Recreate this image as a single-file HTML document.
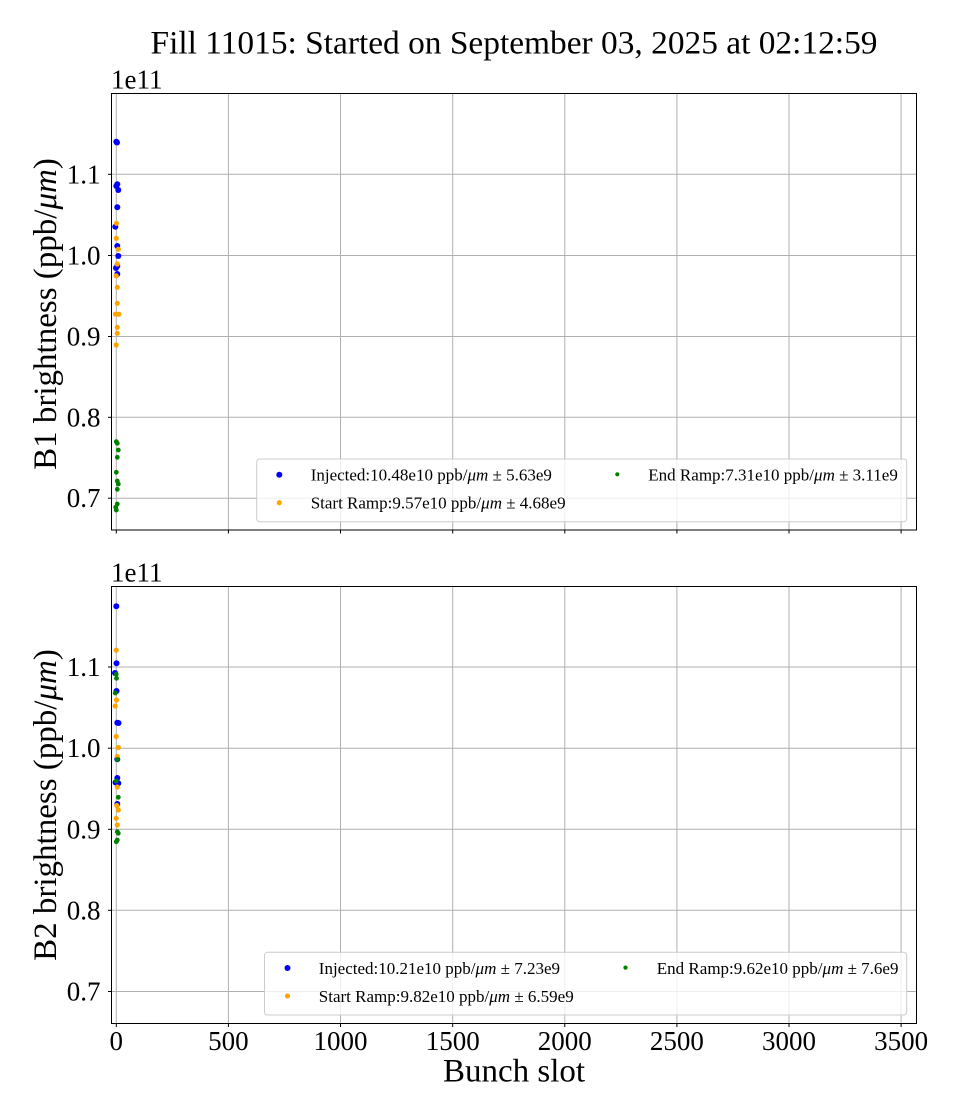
<!DOCTYPE html>
<html>
<head>
<meta charset="utf-8">
<style>
html,body{margin:0;padding:0;background:#fff;}
svg{display:block;}
text{font-family:"Liberation Serif","DejaVu Serif",serif;fill:#000;}
</style>
</head>
<body>
<svg width="960" height="1120" viewBox="0 0 960 1120" xmlns="http://www.w3.org/2000/svg">
<rect width="960" height="1120" fill="#fff"/>

<!-- Title -->
<text x="514" y="53.3" font-size="33" text-anchor="middle" textLength="727" lengthAdjust="spacingAndGlyphs">Fill 11015: Started on September 03, 2025 at 02:12:59</text>

<!-- ================= TOP AXES ================= -->
<g stroke="#b0b0b0" stroke-width="1">
  <line x1="116.3" y1="93.5" x2="116.3" y2="530"/>
  <line x1="228.4" y1="93.5" x2="228.4" y2="530"/>
  <line x1="340.5" y1="93.5" x2="340.5" y2="530"/>
  <line x1="452.7" y1="93.5" x2="452.7" y2="530"/>
  <line x1="564.8" y1="93.5" x2="564.8" y2="530"/>
  <line x1="676.9" y1="93.5" x2="676.9" y2="530"/>
  <line x1="789.0" y1="93.5" x2="789.0" y2="530"/>
  <line x1="901.1" y1="93.5" x2="901.1" y2="530"/>
  <line x1="111.5" y1="174.3" x2="916.5" y2="174.3"/>
  <line x1="111.5" y1="255.5" x2="916.5" y2="255.5"/>
  <line x1="111.5" y1="336.5" x2="916.5" y2="336.5"/>
  <line x1="111.5" y1="417.3" x2="916.5" y2="417.3"/>
  <line x1="111.5" y1="498.2" x2="916.5" y2="498.2"/>
</g>
<!-- ticks -->
<g stroke="#000" stroke-width="1">
  <line x1="116.3" y1="530" x2="116.3" y2="533.5"/>
  <line x1="228.4" y1="530" x2="228.4" y2="533.5"/>
  <line x1="340.5" y1="530" x2="340.5" y2="533.5"/>
  <line x1="452.7" y1="530" x2="452.7" y2="533.5"/>
  <line x1="564.8" y1="530" x2="564.8" y2="533.5"/>
  <line x1="676.9" y1="530" x2="676.9" y2="533.5"/>
  <line x1="789.0" y1="530" x2="789.0" y2="533.5"/>
  <line x1="901.1" y1="530" x2="901.1" y2="533.5"/>
  <line x1="108" y1="174.3" x2="111.5" y2="174.3"/>
  <line x1="108" y1="255.5" x2="111.5" y2="255.5"/>
  <line x1="108" y1="336.5" x2="111.5" y2="336.5"/>
  <line x1="108" y1="417.3" x2="111.5" y2="417.3"/>
  <line x1="108" y1="498.2" x2="111.5" y2="498.2"/>
</g>
<g font-size="27" text-anchor="end">
  <text x="100.5" y="183.3">1.1</text>
  <text x="100.5" y="264.5">1.0</text>
  <text x="100.5" y="345.5">0.9</text>
  <text x="100.5" y="426.3">0.8</text>
  <text x="100.5" y="507.2">0.7</text>
</g>
<text x="111" y="88.3" font-size="27">1e11</text>
<text transform="translate(56,314) rotate(-90)" font-size="33" text-anchor="middle">B1 brightness (ppb/<tspan font-style="italic">μm</tspan>)</text>

<!-- data top -->
<g fill="#0000ff">
  <circle cx="116.3" cy="141.7" r="3"/><circle cx="117" cy="142.5" r="3"/>
  <circle cx="117.3" cy="184.3" r="3"/><circle cx="116.3" cy="186" r="3"/><circle cx="118.3" cy="190" r="3"/>
  <circle cx="117.3" cy="207.3" r="3"/>
  <circle cx="115.3" cy="226.7" r="3"/>
  <circle cx="117.3" cy="246" r="3"/>
  <circle cx="118.3" cy="256" r="3"/>
  <circle cx="117.3" cy="266" r="3"/><circle cx="116" cy="268" r="3"/>
  <circle cx="117.3" cy="274" r="3"/>
</g>
<g fill="#ffa500">
  <circle cx="116.5" cy="223.3" r="2.6"/>
  <circle cx="116.3" cy="238.3" r="2.6"/>
  <circle cx="118.3" cy="249.2" r="2.6"/>
  <circle cx="117.3" cy="264" r="2.6"/>
  <circle cx="116.2" cy="275.8" r="2.6"/>
  <circle cx="117.3" cy="287.3" r="2.6"/>
  <circle cx="117.3" cy="303.3" r="2.6"/>
  <circle cx="115.5" cy="314.2" r="2.6"/><circle cx="118.7" cy="314.2" r="2.6"/>
  <circle cx="117.3" cy="327.3" r="2.6"/>
  <circle cx="117.3" cy="333.3" r="2.6"/>
  <circle cx="116.2" cy="345" r="2.6"/>
</g>
<g fill="#008000">
  <circle cx="116.3" cy="441.7" r="2.4"/><circle cx="117.3" cy="443.3" r="2.4"/>
  <circle cx="118.3" cy="450" r="2.4"/>
  <circle cx="117.3" cy="457.3" r="2.4"/>
  <circle cx="116.3" cy="472.3" r="2.4"/>
  <circle cx="117.3" cy="481" r="2.4"/><circle cx="118.3" cy="484" r="2.4"/>
  <circle cx="117.3" cy="489.3" r="2.4"/>
  <circle cx="117.3" cy="504" r="2.4"/>
  <circle cx="115.7" cy="507.3" r="2.4"/><circle cx="116.3" cy="510" r="2.4"/>
</g>

<!-- legend top -->
<rect x="256.7" y="459" width="650" height="62.7" rx="3" ry="3" fill="#fff" fill-opacity="0.8" stroke="#cccccc" stroke-width="1"/>
<circle cx="279.3" cy="474.7" r="3" fill="#0000ff"/>
<circle cx="279.3" cy="502.7" r="2.6" fill="#ffa500"/>
<circle cx="617.3" cy="474.3" r="2.1" fill="#008000"/>
<g font-size="17">
  <text x="310.7" y="480.5">Injected:10.48e10 ppb/<tspan font-style="italic">μm</tspan> ± 5.63e9</text>
  <text x="310.7" y="508.5">Start Ramp:9.57e10 ppb/<tspan font-style="italic">μm</tspan> ± 4.68e9</text>
  <text x="648.3" y="480.5">End Ramp:7.31e10 ppb/<tspan font-style="italic">μm</tspan> ± 3.11e9</text>
</g>

<rect x="111.5" y="93.5" width="805" height="436.5" fill="none" stroke="#000" stroke-width="1"/>

<!-- ================= BOTTOM AXES ================= -->
<g stroke="#b0b0b0" stroke-width="1">
  <line x1="116.3" y1="586.5" x2="116.3" y2="1023.5"/>
  <line x1="228.4" y1="586.5" x2="228.4" y2="1023.5"/>
  <line x1="340.5" y1="586.5" x2="340.5" y2="1023.5"/>
  <line x1="452.7" y1="586.5" x2="452.7" y2="1023.5"/>
  <line x1="564.8" y1="586.5" x2="564.8" y2="1023.5"/>
  <line x1="676.9" y1="586.5" x2="676.9" y2="1023.5"/>
  <line x1="789.0" y1="586.5" x2="789.0" y2="1023.5"/>
  <line x1="901.1" y1="586.5" x2="901.1" y2="1023.5"/>
  <line x1="111.5" y1="667" x2="916.5" y2="667"/>
  <line x1="111.5" y1="748.2" x2="916.5" y2="748.2"/>
  <line x1="111.5" y1="829.3" x2="916.5" y2="829.3"/>
  <line x1="111.5" y1="910.3" x2="916.5" y2="910.3"/>
  <line x1="111.5" y1="991.5" x2="916.5" y2="991.5"/>
</g>
<g stroke="#000" stroke-width="1">
  <line x1="116.3" y1="1023.5" x2="116.3" y2="1027"/>
  <line x1="228.4" y1="1023.5" x2="228.4" y2="1027"/>
  <line x1="340.5" y1="1023.5" x2="340.5" y2="1027"/>
  <line x1="452.7" y1="1023.5" x2="452.7" y2="1027"/>
  <line x1="564.8" y1="1023.5" x2="564.8" y2="1027"/>
  <line x1="676.9" y1="1023.5" x2="676.9" y2="1027"/>
  <line x1="789.0" y1="1023.5" x2="789.0" y2="1027"/>
  <line x1="901.1" y1="1023.5" x2="901.1" y2="1027"/>
  <line x1="108" y1="667" x2="111.5" y2="667"/>
  <line x1="108" y1="748.2" x2="111.5" y2="748.2"/>
  <line x1="108" y1="829.3" x2="111.5" y2="829.3"/>
  <line x1="108" y1="910.3" x2="111.5" y2="910.3"/>
  <line x1="108" y1="991.5" x2="111.5" y2="991.5"/>
</g>
<g font-size="27" text-anchor="end">
  <text x="100.5" y="676">1.1</text>
  <text x="100.5" y="757.2">1.0</text>
  <text x="100.5" y="838.3">0.9</text>
  <text x="100.5" y="919.3">0.8</text>
  <text x="100.5" y="1000.5">0.7</text>
</g>
<g font-size="27" text-anchor="middle">
  <text x="116.3" y="1050">0</text>
  <text x="228.4" y="1050">500</text>
  <text x="340.5" y="1050">1000</text>
  <text x="452.7" y="1050">1500</text>
  <text x="564.8" y="1050">2000</text>
  <text x="676.9" y="1050">2500</text>
  <text x="789.0" y="1050">3000</text>
  <text x="901.1" y="1050">3500</text>
</g>
<text x="111" y="581.3" font-size="27">1e11</text>
<text transform="translate(56,805) rotate(-90)" font-size="33" text-anchor="middle">B2 brightness (ppb/<tspan font-style="italic">μm</tspan>)</text>
<text x="514" y="1081.7" font-size="33" text-anchor="middle">Bunch slot</text>

<!-- data bottom -->
<g fill="#0000ff">
  <circle cx="116.3" cy="606.3" r="3"/>
  <circle cx="116.5" cy="663.3" r="3"/>
  <circle cx="115" cy="673" r="3"/>
  <circle cx="116.5" cy="691" r="3"/>
  <circle cx="117.3" cy="722.8" r="3"/><circle cx="118.5" cy="723" r="3"/>
  <circle cx="117.3" cy="759.3" r="3"/>
  <circle cx="117.3" cy="778" r="3"/><circle cx="115.5" cy="782.5" r="3"/><circle cx="118.3" cy="783.3" r="3"/>
  <circle cx="117.3" cy="804" r="3"/>
</g>
<g fill="#ffa500">
  <circle cx="116.2" cy="650.2" r="2.6"/>
  <circle cx="116.5" cy="700" r="2.6"/>
  <circle cx="115.2" cy="706" r="2.6"/>
  <circle cx="116.2" cy="736.5" r="2.6"/>
  <circle cx="118.3" cy="747.5" r="2.6"/>
  <circle cx="117.3" cy="756.5" r="2.6"/>
  <circle cx="117.3" cy="787" r="2.6"/>
  <circle cx="116.8" cy="805.5" r="2.6"/><circle cx="118.3" cy="810" r="2.6"/>
  <circle cx="116.2" cy="818.3" r="2.6"/>
  <circle cx="117.3" cy="825" r="2.6"/>
</g>
<g fill="#008000">
  <circle cx="116.2" cy="674.3" r="2.4"/>
  <circle cx="116.5" cy="678.3" r="2.4"/>
  <circle cx="115.2" cy="693" r="2.4"/>
  <circle cx="117.3" cy="759.5" r="2.4"/>
  <circle cx="116.3" cy="781" r="2.4"/>
  <circle cx="118.3" cy="797.3" r="2.4"/>
  <circle cx="117.3" cy="831.7" r="2.4"/><circle cx="118.3" cy="833.3" r="2.4"/>
  <circle cx="117.3" cy="840" r="2.4"/><circle cx="116.3" cy="841.7" r="2.4"/>
</g>

<!-- legend bottom -->
<rect x="264.5" y="952.3" width="642.2" height="62.7" rx="3" ry="3" fill="#fff" fill-opacity="0.8" stroke="#cccccc" stroke-width="1"/>
<circle cx="287.5" cy="968" r="3" fill="#0000ff"/>
<circle cx="287.5" cy="996" r="2.6" fill="#ffa500"/>
<circle cx="625.5" cy="967.6" r="2.1" fill="#008000"/>
<g font-size="17">
  <text x="318.8" y="973.8">Injected:10.21e10 ppb/<tspan font-style="italic">μm</tspan> ± 7.23e9</text>
  <text x="318.8" y="1001.8">Start Ramp:9.82e10 ppb/<tspan font-style="italic">μm</tspan> ± 6.59e9</text>
  <text x="656.8" y="973.8">End Ramp:9.62e10 ppb/<tspan font-style="italic">μm</tspan> ± 7.6e9</text>
</g>

<rect x="111.5" y="586.5" width="805" height="437" fill="none" stroke="#000" stroke-width="1"/>
</svg>
</body>
</html>
